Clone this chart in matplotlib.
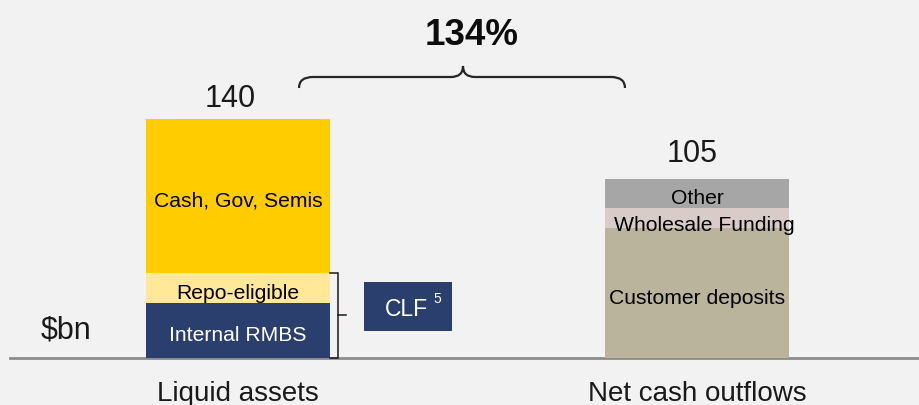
import matplotlib.pyplot as plt
from matplotlib.path import Path
from matplotlib.patches import PathPatch, Rectangle

plt.rcParams['font.family'] = ['Liberation Sans', 'DejaVu Sans']

# data ($bn)
categories = ['Liquid assets', 'Net cash outflows']
totals = [140, 105]
liquid_labels = ['Internal RMBS', 'Repo-eligible', 'Cash, Gov, Semis']
liquid_values = [32, 18, 90]
outflow_labels = ['Customer deposits', 'Wholesale Funding', 'Other']
outflow_values = [76, 12, 17]
ratio_label = '134%'

liquid_colors = ['#2B3F6E', '#FFE999', '#FFCC00']
liquid_text = ['white', 'black', 'black']
outflow_colors = ['#B9B49B', '#D9CBC8', '#A6A6A6']
outflow_text = ['black', 'black', 'black']

bg = '#F2F2F2'
fig = plt.figure(figsize=(9.2, 4.06), dpi=100, facecolor=bg)
ax = fig.add_axes([0, 0, 1, 1])
ax.set_facecolor(bg)
ax.axis('off')

# pixel mapping: bar centers at 238 / 697 px, baseline at 359 px, 1.707 px per $bn
ppx = 459.0
ppv = 1.707
ax.set_xlim(-238 / ppx, (920 - 238) / ppx)
ax.set_ylim(-47 / ppv, 359 / ppv)
width = 184 / ppx

stacks = [(liquid_labels, liquid_values, liquid_colors, liquid_text),
          (outflow_labels, outflow_values, outflow_colors, outflow_text)]
for i, (labels, values, colors, tcols) in enumerate(stacks):
    bottom = 0
    for lab, val, col, tc in zip(labels, values, colors, tcols):
        ax.bar(i, val, width=width, bottom=bottom, color=col, edgecolor='none')
        xoff, ydrop = 0, 9.5
        if lab == 'Wholesale Funding':
            xoff, ydrop = 7 / ppx, 12
        ax.text(i + xoff, bottom + val / 2 - ydrop / ppv, lab, ha='center', va='baseline',
                fontsize=15.2, color=tc)
        bottom += val

# totals above bars
total_gap = [7.5, 10.5]
total_dx = [-7.5, -4.5]
for i, t in enumerate(totals):
    ax.text(i + total_dx[i] / ppx, t + total_gap[i], str(t), ha='center', va='baseline',
            fontsize=22, color='#1a1a1a')

# category labels
for i, c in enumerate(categories):
    ax.text(i, -42 / ppv, c, ha='center', va='baseline', fontsize=20, color='#1a1a1a')

# baseline
ax.axhline(0, xmin=10 / 920, xmax=1, color='#8C8C8C', lw=2, zorder=0)

# bracket beside repo + RMBS
top = liquid_values[0] + liquid_values[1]
xr = width / 2
xb = xr + 8 / ppx
ax.plot([xr, xb, xb, xr], [top, top, 0, 0], color='#1a1a1a', lw=1.1, solid_joinstyle='miter')
ax.plot([xb, xb + 8 / ppx], [top / 2, top / 2], color='#1a1a1a', lw=1.1)

# overlay in pixel coordinates for annotations
ov = fig.add_axes([0, 0, 1, 1])
ov.set_xlim(0, 920)
ov.set_ylim(406, 0)
ov.axis('off')
ov.patch.set_alpha(0)

# CLF box
ov.add_patch(Rectangle((364, 283), 88, 49, facecolor='#2B3F6E', edgecolor='none'))
ov.text(385, 316, 'CLF', ha='left', va='baseline', fontsize=16.5, color='white')
ov.text(433, 303, '5', ha='left', va='baseline', fontsize=10, color='white')

# $bn
ov.text(66, 339, '$bn', ha='center', va='baseline', fontsize=22, color='#1a1a1a')

# curly brace
verts = [(299, 89), (299, 78), (313, 78),
         (451, 78),
         (463, 78), (463, 67),
         (463, 78), (475, 78),
         (611, 78),
         (625, 78), (625, 89)]
codes = [Path.MOVETO, Path.CURVE3, Path.CURVE3,
         Path.LINETO,
         Path.CURVE3, Path.CURVE3,
         Path.CURVE3, Path.CURVE3,
         Path.LINETO,
         Path.CURVE3, Path.CURVE3]
ov.add_patch(PathPatch(Path(verts, codes), facecolor='none', edgecolor='#262626', lw=1.6))
ov.text(472, 45, ratio_label, ha='center', va='baseline', fontsize=26.5, fontweight='bold',
        color='#0d0d0d')

fig.savefig('out.png', dpi=100, facecolor=bg)
